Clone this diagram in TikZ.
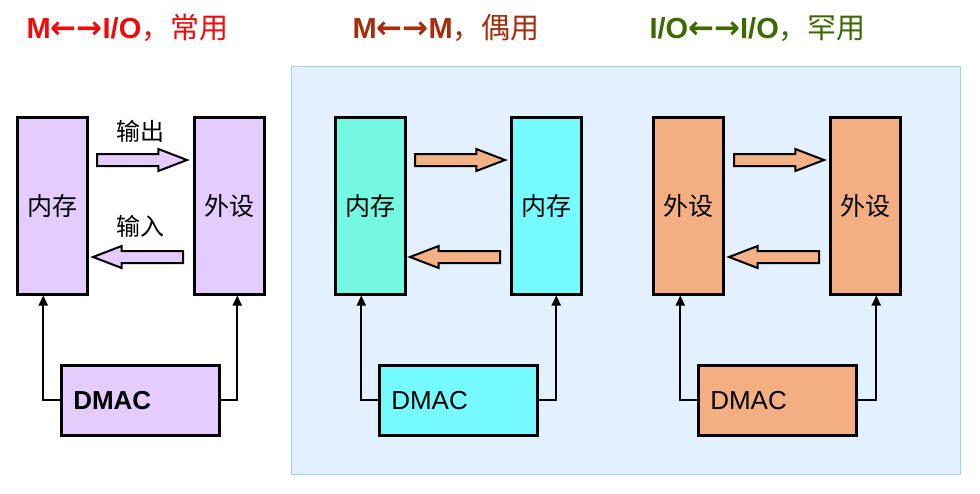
\documentclass[tikz,border=0pt]{standalone}
\usepackage{fontspec}
\setmainfont{Liberation Sans}
\newfontfamily\cjk{Noto Sans CJK SC}
\newfontfamily\symb{DejaVu Sans}
\usetikzlibrary{arrows.meta,shapes.arrows}
\definecolor{lilac}{RGB}{229,204,255}
\definecolor{aqua}{RGB}{116,248,226}
\definecolor{cyanbox}{RGB}{116,250,255}
\definecolor{salmon}{RGB}{243,174,129}
\definecolor{arrowfill}{RGB}{244,177,131}
\definecolor{panelbg}{RGB}{227,240,255}
\definecolor{panelrim}{RGB}{165,205,245}
\definecolor{titleone}{RGB}{240,10,10}
\definecolor{titletwo}{RGB}{165,45,10}
\definecolor{titlethree}{RGB}{60,105,0}
\newcommand{\twoway}{{\symb\bfseries\fontsize{31}{31}\selectfont ←→}}
\tikzset{
  unit/.style={draw,line width=2.5pt,minimum width=70pt,minimum height=177pt,
    anchor=north west,inner sep=0pt,font=\cjk\fontsize{25}{25}\selectfont},
  dmacbox/.style={draw,line width=2.5pt,minimum height=70pt,text width=134pt,
    inner xsep=12pt,align=left,anchor=north west,font=\fontsize{26}{26}\selectfont},
  fat/.style={single arrow,draw,line width=2pt,inner sep=0pt,inner ysep=5pt,
    text height=0pt,text depth=0pt,single arrow head extend=5pt,
    single arrow tip angle=42,minimum height=90pt,anchor=tail},
  link/.style={-{Triangle[length=10pt,width=9pt]},line width=2.2pt},
  heading/.style={anchor=base west,font=\fontsize{29}{29}\selectfont},
  tag/.style={font=\cjk\fontsize{24}{24}\selectfont}
}
\begin{document}
\begin{tikzpicture}[x=1pt,y=-1pt]
  \useasboundingbox (0,0) rectangle (980,493);
  \fill[white] (0,0) rectangle (980,493);
  \draw[panelrim,fill=panelbg,line width=1pt] (291,66) rectangle (960,474);

  \node[heading,titleone] (t1) at (23,38) {\textbf{M}\twoway\textbf{I/O}{\cjk ，常用}};
  \node[heading,titletwo] (t2) at (349,38) {\textbf{M}\twoway\textbf{M}{\cjk ，偶用}};
  \node[heading,titlethree] (t3) at (646,38) {\textbf{I/O}\twoway\textbf{I/O}{\cjk ，罕用}};

  % M <-> I/O
  \node[unit,fill=lilac] (mem1) at (16,116) {内存};
  \node[unit,fill=lilac] (dev1) at (193,116) {外设};
  \node[dmacbox,fill=lilac] (dmac1) at (60,364) {\textbf{DMAC}};
  \node[fat,fill=lilac] (out1) at (96,160) {};
  \node[fat,fill=lilac,shape border rotate=180] (in1) at (184,257) {};
  \node[tag] (lout) at (140,131) {输出};
  \node[tag] (lin) at (140,226) {输入};
  \draw[link] (dmac1.west) -| ([xshift=-9pt]mem1.south);
  \draw[link] (dmac1.east) -| ([xshift=8pt]dev1.south);

  % M <-> M
  \node[unit,fill=aqua] (mem2) at (334,116) {内存};
  \node[unit,fill=cyanbox] (mem3) at (510,116) {内存};
  \node[dmacbox,fill=cyanbox] (dmac2) at (378,364) {DMAC};
  \node[fat,fill=arrowfill] (out2) at (414,160) {};
  \node[fat,fill=arrowfill,shape border rotate=180] (in2) at (501,257) {};
  \draw[link] (dmac2.west) -| ([xshift=-9pt]mem2.south);
  \draw[link] (dmac2.east) -| ([xshift=10pt]mem3.south);

  % I/O <-> I/O
  \node[unit,fill=salmon] (dev2) at (652,116) {外设};
  \node[unit,fill=salmon] (dev3) at (829,116) {外设};
  \node[dmacbox,fill=salmon] (dmac3) at (697,364) {DMAC};
  \node[fat,fill=arrowfill] (out3) at (733,160) {};
  \node[fat,fill=arrowfill,shape border rotate=180] (in3) at (820,257) {};
  \draw[link] (dmac3.west) -| ([xshift=-8pt]dev2.south);
  \draw[link] (dmac3.east) -| ([xshift=11pt]dev3.south);
\end{tikzpicture}
\end{document}
